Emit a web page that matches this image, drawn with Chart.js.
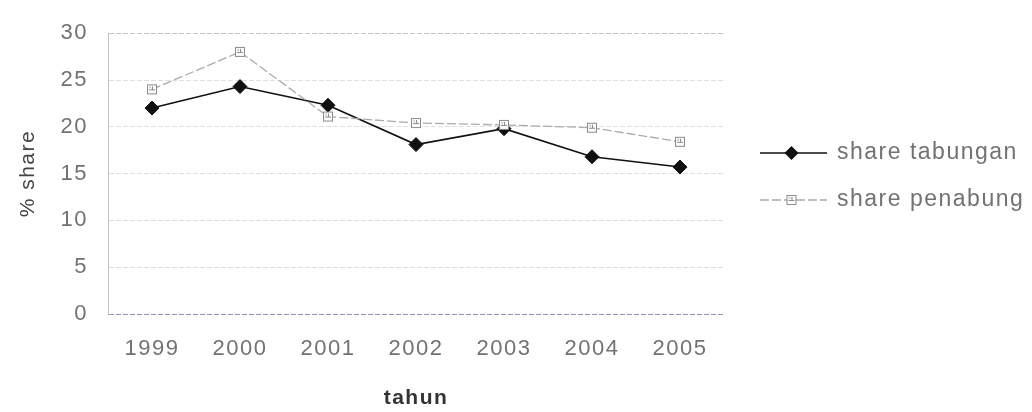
<!DOCTYPE html>
<html>
<head>
<meta charset="utf-8">
<script src="https://cdn.jsdelivr.net/npm/chart.js@4/dist/chart.umd.min.js"></script>
<style>
  html, body { margin: 0; padding: 0; background: #fff; }
  #wrap { width: 1032px; height: 412px; }
</style>
</head>
<body>
<div id="wrap"><canvas id="chart" width="1032" height="412"></canvas></div>
<script>
// Years on the horizontal axis
const years = ['1999', '2000', '2001', '2002', '2003', '2004', '2005'];
// Share of savings balances (%)
const shareTabungan = [22.0, 24.3, 22.3, 18.1, 19.8, 16.8, 15.7];
// Share of savers (%)
const sharePenabung = [24.0, 28.0, 21.1, 20.4, 20.2, 19.9, 18.4];
// Value-axis ticks
const yTicks = [0, 5, 10, 15, 20, 25, 30];

const FONT = "'Liberation Sans', Arial, sans-serif";
const TEXT_GREY = '#727272';

// Small boxed marker used for the "share penabung" series
function makeBoxMarker() {
  const c = document.createElement('canvas');
  c.width = 12; c.height = 12;
  const g = c.getContext('2d');
  g.fillStyle = '#fbfbfb';
  g.fillRect(1, 1, 10, 10);
  g.strokeStyle = '#8c8c8c';
  g.lineWidth = 1;
  g.strokeRect(1.5, 1.5, 9, 9);
  g.beginPath();
  g.moveTo(3, 6.5); g.lineTo(9, 6.5);
  g.moveTo(6.5, 3); g.lineTo(6.5, 6);
  g.moveTo(3.5, 4); g.lineTo(5, 4);
  g.stroke();
  return c;
}
const boxMarker = makeBoxMarker();

// Slightly widened text spacing for all chart text
const spacingPlugin = {
  id: 'spacing',
  beforeUpdate(chart) { chart.ctx.letterSpacing = '1.5px'; },
  beforeDraw(chart) { chart.ctx.letterSpacing = '1.5px'; }
};

// Legend at the right: a line sample with the series marker, then the label
const lineLegend = {
  id: 'lineLegend',
  afterDraw(chart, args, opts) {
    const ctx = chart.ctx;
    ctx.save();
    ctx.letterSpacing = '1.5px';
    chart.data.datasets.forEach((ds, i) => {
      const y = opts.top + i * opts.gap;
      const x0 = opts.left, x1 = opts.left + opts.lineLength;
      const xm = (x0 + x1) / 2 - 2;
      ctx.strokeStyle = ds.borderColor;
      ctx.lineWidth = ds.borderWidth;
      ctx.setLineDash(ds.borderDash || []);
      ctx.beginPath();
      ctx.moveTo(x0, y); ctx.lineTo(x1, y);
      ctx.stroke();
      ctx.setLineDash([]);
      if (ds.pointStyle === 'rectRot') {
        const r = ds.pointRadius;
        ctx.fillStyle = ds.pointBackgroundColor;
        ctx.beginPath();
        ctx.moveTo(xm, y - r); ctx.lineTo(xm + r, y);
        ctx.lineTo(xm, y + r); ctx.lineTo(xm - r, y);
        ctx.closePath();
        ctx.fill();
      } else {
        ctx.drawImage(ds.pointStyle, xm - 6, y - 6);
      }
      ctx.fillStyle = TEXT_GREY;
      ctx.font = '23px ' + FONT;
      ctx.textBaseline = 'middle';
      ctx.textAlign = 'left';
      ctx.fillText(ds.label, x1 + 10, y);
    });
    ctx.restore();
  }
};

new Chart(document.getElementById('chart'), {
  type: 'line',
  data: {
    labels: years,
    datasets: [
      {
        label: 'share tabungan',
        data: shareTabungan,
        borderColor: '#111111',
        borderWidth: 1.6,
        pointStyle: 'rectRot',
        pointRadius: 7,
        pointBackgroundColor: '#111111',
        pointBorderColor: '#111111',
        pointBorderWidth: 1,
        tension: 0,
        order: 2
      },
      {
        label: 'share penabung',
        data: sharePenabung,
        borderColor: '#ababab',
        borderWidth: 1.3,
        borderDash: [9, 3],
        pointStyle: boxMarker,
        pointRadius: 6,
        tension: 0,
        order: 1
      }
    ]
  },
  options: {
    responsive: false,
    devicePixelRatio: 1,
    animation: false,
    layout: { padding: { top: 31, right: 308, left: 0, bottom: 0 } },
    plugins: {
      legend: { display: false },
      tooltip: { enabled: false },
      lineLegend: { left: 760, top: 153, gap: 47, lineLength: 67 }
    },
    scales: {
      x: {
        offset: true,
        grid: { display: false, drawTicks: false },
        border: { display: false },
        ticks: {
          color: TEXT_GREY,
          font: { family: FONT, size: 22 },
          padding: 22,
          maxRotation: 0
        },
        title: {
          display: true,
          text: 'tahun',
          color: '#333333',
          font: { family: FONT, size: 21, weight: 'bold' },
          padding: { top: 0, bottom: 1 }
        },
        afterFit(scale) { scale.height = 98; }
      },
      y: {
        min: 0,
        max: 30,
        afterBuildTicks(scale) { scale.ticks = yTicks.map(v => ({ value: v })); },
        grid: {
          drawTicks: false,
          lineWidth: 1,
          color(ctx) {
            const v = ctx.tick && ctx.tick.value;
            if (v === 0) return '#8e95b3';
            if (v === 30) return '#c4c4c4';
            return '#dde0e8';
          }
        },
        border: { display: true, color: '#c2c2c2', dash: [5, 2] },
        ticks: {
          color: TEXT_GREY,
          font: { family: FONT, size: 22 },
          padding: 20
        },
        title: {
          display: true,
          text: '% share',
          color: '#444444',
          font: { family: FONT, size: 21 },
          padding: { top: 16, bottom: 0 }
        },
        afterFit(scale) { scale.width = 108; }
      }
    }
  },
  plugins: [spacingPlugin, lineLegend]
});
</script>
</body>
</html>
